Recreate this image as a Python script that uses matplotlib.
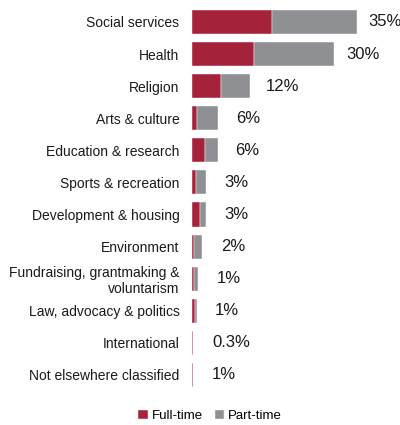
import matplotlib.pyplot as plt
import numpy as np

plt.rcParams["font.family"] = ["Liberation Sans", "DejaVu Sans"]

categories = [
    "Social services", "Health", "Religion", "Arts & culture",
    "Education & research", "Sports & recreation", "Development & housing",
    "Environment", "Fundraising, grantmaking &\nvoluntarism",
    "Law, advocacy & politics", "International", "Not elsewhere classified",
]
full_time = [17.0, 13.2, 6.2, 1.0, 2.8, 0.8, 1.7, 0.4, 0.5, 0.7, 0.2, 0.2]
part_time = [18.0, 16.9, 6.1, 4.6, 2.7, 2.2, 1.3, 1.8, 0.8, 0.3, 0.1, 0.1]
labels = ["35%", "30%", "12%", "6%", "6%", "3%", "3%", "2%", "1%", "1%", "0.3%", "1%"]

red = "#A5233A"
gray = "#8E9093"

fig = plt.figure(figsize=(4.0, 4.25), dpi=100)
ax = fig.add_axes([0.48, 0.08, 0.52, 0.906])

y = np.arange(len(categories))
ft = np.array(full_time)
pt = np.array(part_time)
ax.barh(y, ft, height=0.75, color=red, label="Full-time", edgecolor="white", linewidth=0.3)
ax.barh(y, pt, left=ft, height=0.75, color=gray, label="Part-time", edgecolor="white", linewidth=0.3)

# labels sit a little further out on the short bars
totals = ft + pt
for yi, total, lab in zip(y, totals, labels):
    gap_pt = 7.5 + 6 * (1 - total / totals.max())
    ax.annotate(lab, (total, yi), xytext=(gap_pt, 0), textcoords="offset points",
                ha="left", va="center", fontsize=12, color="#1a1a1a")

ax.set_yticks(y)
ax.set_yticklabels(categories, fontsize=10, color="#1a1a1a")
ax.tick_params(axis="y", length=0, pad=9)
ax.set_xticks([])
ax.set_ylim(len(categories) - 0.5, -0.5)
ax.set_xlim(0, 44)
for s in ax.spines.values():
    s.set_visible(False)

fig.legend(loc="lower center", bbox_to_anchor=(0.525, -0.022), ncol=2, frameon=False,
           fontsize=9.5, handlelength=0.7, handleheight=0.7, handletextpad=0.3,
           columnspacing=0.9)

fig.savefig("out.png", dpi=100)
